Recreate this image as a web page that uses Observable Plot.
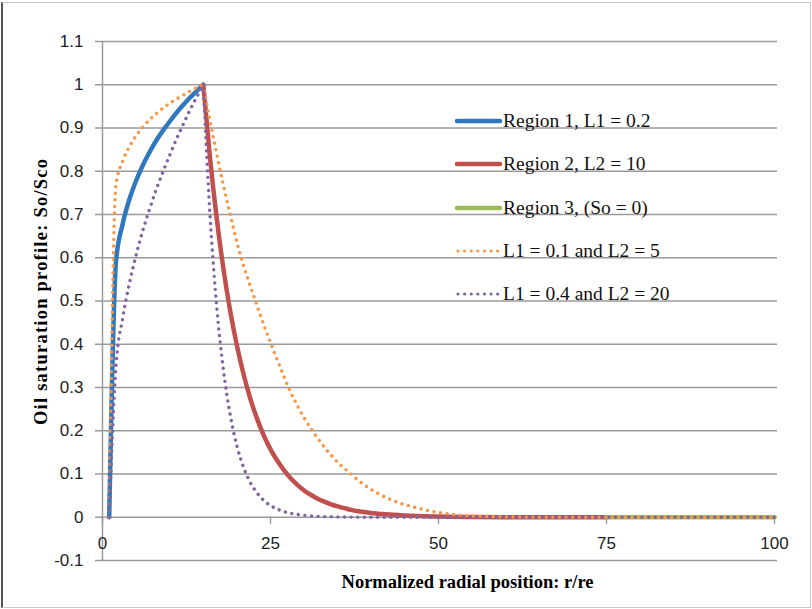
<!DOCTYPE html>
<html>
<head>
<meta charset="utf-8">
<script src="https://cdn.jsdelivr.net/npm/d3@7"></script>
<script src="https://cdn.jsdelivr.net/npm/@observablehq/plot@0.6"></script>
<style>
  html, body { margin: 0; padding: 0; background: #fff; }
  #wrap { position: relative; width: 812px; height: 609px; overflow: hidden; background: #fff; }
  #frame { position: absolute; left: 1px; top: 2px; width: 807px; height: 604px;
           border: 1px solid #c8c8c8; border-left: 2px solid #555; pointer-events: none; }
  .leg { position: absolute; height: 26px; display: flex; align-items: center; white-space: nowrap;
         font-family: "Liberation Serif", "Times New Roman", serif; font-size: 19.5px; color: #111; line-height: 26px; }
</style>
</head>
<body>
<div id="wrap"><div id="chart"></div><div id="legend"></div><div id="frame"></div></div>
<script>
// ---- data ----
const xTicks = [0, 25, 50, 75, 100];
const xTickLabels = ["0", "25", "50", "75", "100"];
const yTicks = [-0.1, 0, 0.1, 0.2, 0.3, 0.4, 0.5, 0.6, 0.7, 0.8, 0.9, 1, 1.1];
const yTickLabels = ["-0.1", "0", "0.1", "0.2", "0.3", "0.4", "0.5", "0.6", "0.7", "0.8", "0.9", "1", "1.1"];

// Region 1 (rise), r = 1..15
const rRise = [1, 2, 3, 4, 5, 6, 7, 8, 9, 10, 11, 12, 13, 14, 15];
const blueRise   = [0, 0.590, 0.678, 0.735, 0.778, 0.814, 0.844, 0.871, 0.894, 0.915, 0.935, 0.953, 0.970, 0.985, 1.0];
const orangeRise = [0, 0.768, 0.823, 0.857, 0.882, 0.902, 0.919, 0.933, 0.946, 0.957, 0.967, 0.976, 0.985, 0.993, 1.0];
const purpleRise = [0, 0.348, 0.460, 0.540, 0.606, 0.663, 0.712, 0.758, 0.799, 0.837, 0.874, 0.908, 0.941, 0.971, 1.0];

// Region 2 (decay), L2 = 10
const rRed = [15,16,17,18,19,20,21,22,23,24,25,26,27,28,29,30,31,32,33,34,35,36,37,38,39,40,41,42,43,44,45,50,55,60,65,70,75];
const redVals = [1.0,0.831,0.691,0.574,0.477,0.397,0.330,0.274,0.228,0.189,0.157,0.131,0.109,0.090,0.075,0.062,0.052,0.043,0.036,0.030,0.025,0.021,0.017,0.014,0.012,0.010,0.008,0.007,0.006,0.005,0.004,0.0015,0.0006,0.0002,0.0001,0,0];

// Region 3, So = 0
const rGreen = [75, 100];
const greenVals = [0, 0];

// L1 = 0.1 and L2 = 5 (decay)
const rOrange = [15,16,17,18,19,20,21,22,23,24,25,26,27,28,29,30,31,32,33,34,35,36,37,38,39,40,41,42,43,44,45,46,47,48,49,50,51,52,53,54,55,60,65,70,80,90,100];
const orangeVals = [1.0,0.916,0.840,0.767,0.700,0.636,0.581,0.534,0.490,0.445,0.404,0.364,0.325,0.289,0.258,0.230,0.205,0.183,0.162,0.144,0.127,0.113,0.100,0.086,0.074,0.064,0.055,0.047,0.040,0.034,0.029,0.025,0.021,0.017,0.0136,0.011,0.0087,0.0067,0.0052,0.004,0.0032,0.0009,0.0002,0,0,0,0];

// L1 = 0.4 and L2 = 20 (decay)
const rPurple = [15,16,17,18,19,20,21,22,23,24,25,26,27,28,29,30,31,32,33,35,40,45,50,75,100];
const purpleVals = [1.0,0.698,0.487,0.340,0.237,0.165,0.115,0.080,0.056,0.039,0.027,0.019,0.013,0.0093,0.0065,0.0045,0.0032,0.0022,0.0015,0.0007,0.0001,0,0,0,0];

const seriesNames = ["Region 1, L1 = 0.2", "Region 2, L2 = 10", "Region 3, (So = 0)", "L1 = 0.1 and L2 = 5", "L1 = 0.4 and L2 = 20"];
const seriesColors = ["#2F78BE", "#C0504D", "#9BBB59", "#F79646", "#8064A2"];
const seriesDotted = [false, false, false, true, true];

const xTitle = "Normalized radial position: r/re";
const yTitle = "Oil saturation profile: So/Sco";

// ---- tables ----
const zip = (xs, vs) => xs.map((r, i) => ({r, v: vs[i]}));
const blue = zip(rRise, blueRise);
const red = zip(rRed, redVals);
const green = zip(rGreen, greenVals);
const orangeA = zip(rRise, orangeRise);
const orangeB = zip(rOrange, orangeVals);
const purpleA = zip(rRise, purpleRise);
const purpleB = zip(rPurple, purpleVals);

const grid = "#9a9a9a";
const dotDash = "0.01 6.6";
const solid = (data, k) => Plot.line(data, {x: "r", y: "v", stroke: seriesColors[k], strokeWidth: 4.5, curve: "monotone-x", strokeLinejoin: "round"});
const dotted = (data, k) => Plot.line(data, {x: "r", y: "v", stroke: seriesColors[k], strokeWidth: 3.4, curve: "monotone-x",
  strokeDasharray: dotDash, strokeLinecap: "round"});

const chart = Plot.plot({
  width: 812,
  height: 609,
  marginLeft: 102,
  marginRight: 38,
  marginTop: 41,
  marginBottom: 49,
  x: {domain: [0, 100], axis: null},
  y: {domain: [-0.1, 1.1]},
  style: {background: "white", fontFamily: "Liberation Sans, Arial, sans-serif", overflow: "visible"},
  marks: [
    Plot.ruleY(yTicks, {y: d => d, stroke: grid, strokeWidth: 1.5, insetLeft: -7, insetRight: -3}),
    Plot.ruleX([0], {x: d => d, stroke: grid, strokeWidth: 1.5}),
    Plot.ruleX(xTicks, {x: d => d, y1: () => 0, y2: () => 0, insetBottom: -7, stroke: grid, strokeWidth: 1.5}),
    Plot.axisY({ticks: yTicks, tickSize: 0, tickPadding: 19, tickFormat: d => yTickLabels[yTicks.indexOf(d)],
      fontSize: 17, fill: "#222", label: null}),
    Plot.text(xTicks, {x: d => d, y: () => 0, text: (d, i) => xTickLabels[i], dy: 26, fontSize: 17, fill: "#222"}),
    Plot.text([xTitle], {frameAnchor: "bottom", lineAnchor: "middle", textAnchor: "middle", dx: 29, dy: 22, fontWeight: "bold",
      fontFamily: "Liberation Serif, Times New Roman, serif", fontSize: 18.5, fill: "#000"}),
    Plot.text([yTitle], {frameAnchor: "left", lineAnchor: "middle", textAnchor: "middle", rotate: -90, dx: -61, dy: -9, fontWeight: "bold",
      fontFamily: "Liberation Serif, Times New Roman, serif", fontSize: 18.5, fill: "#000"}),
    solid(blue, 0),
    solid(red, 1),
    solid(green, 2),
    dotted(orangeA, 3),
    dotted(orangeB, 3),
    dotted(purpleA, 4),
    dotted(purpleB, 4)
  ]
});
d3.select(chart).selectAll("text").filter(function() { return this.textContent === yTitle; })
  .attr("textLength", 266).attr("lengthAdjust", "spacing");
document.getElementById("chart").appendChild(chart);

// ---- legend (inside plot area) ----
const legend = document.getElementById("legend");
const rowCenters = [121, 164.3, 207.7, 251, 294.3];
seriesNames.forEach((name, i) => {
  const row = document.createElement("div");
  row.className = "leg";
  row.style.left = "455px";
  row.style.top = (rowCenters[i] - 13) + "px";
  const dash = seriesDotted[i] ? `stroke-dasharray="${dotDash}" stroke-width="3.2"` : 'stroke-width="4.5"';
  row.innerHTML = `<svg width="48" height="26" style="display:block"><line x1="${seriesDotted[i] ? 3 : 2}" x2="45" y1="13" y2="13" stroke="${seriesColors[i]}" stroke-linecap="round" ${dash}/></svg><span>${name}</span>`;
  legend.appendChild(row);
});
</script>
</body>
</html>
